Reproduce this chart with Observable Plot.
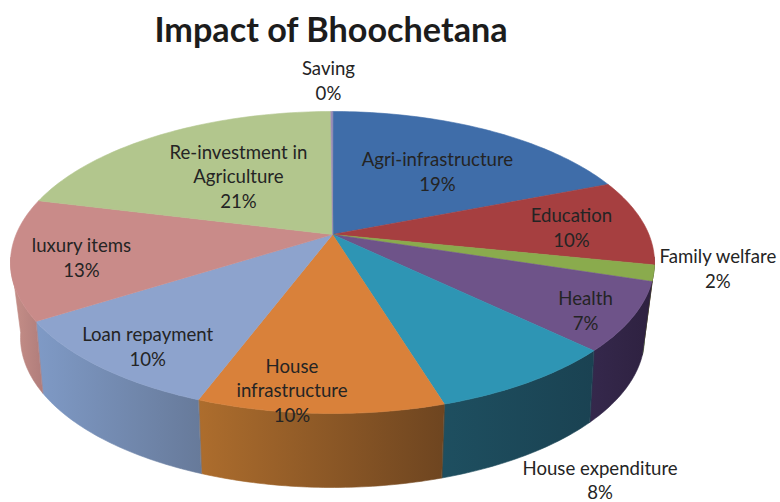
<!DOCTYPE html>
<html>
<head>
<meta charset="utf-8">
<script src="https://cdn.jsdelivr.net/npm/d3@7"></script>
<script src="https://cdn.jsdelivr.net/npm/@observablehq/plot@0.6"></script>
<style>
  html, body { margin: 0; padding: 0; background: #fff; }
  #title { height: 56px; margin: 0; padding: 0; width: 662px; text-align: center;
           font: bold 34.2px/58px Lato, sans-serif; color: #1c1c1c; }
  svg { display: block; }
</style>
</head>
<body>
<h1 id="title">Impact of Bhoochetana</h1>
<div id="chart"></div>
<script>
// ---- data ----
const categories = ["Agri-infrastructure", "Education", "Family welfare", "Health", "House expenditure",
  "House\ninfrastructure", "Loan repayment", "luxury items", "Re-investment in\nAgriculture", "Saving"];
const printedPercent = ["19%", "10%", "2%", "7%", "8%", "10%", "10%", "13%", "21%", "0%"];
const sliceShare = [19.0, 9.2, 1.7, 7.3, 8.1, 10.4, 10.3, 12.9, 21.0, 0.1]; // drawn size of each slice

// ---- styling ----
const topColors = ["#3f6da9", "#a63f40", "#8aab4d", "#6e5389", "#2e95b4", "#d9813a", "#8da3cd", "#c98b89", "#b2c68d", "#9c8bb6"];
const wallColors = [
  ["#2c4d78", "#2c4d78"], ["#6f2a2b", "#6f2a2b"], ["#4f6330", "#4f6330"], ["#35284c", "#2e2140"], ["#1e4f60", "#1a4252"],
  ["#ad6d2d", "#6e4520"], ["#7f9ac6", "#677a9a"], ["#c79089", "#b07d7b"], ["#b2c68d", "#b2c68d"], ["#9c8bb6", "#9c8bb6"]
];
const labelFit = [[0.68, 0, 7], [0.77, 0, 1.5], [1.2, 0, -13], [0.843, 0, 5.4], [1.364, 0, 43],
  [0.866, -30, 0], [0.794, 0, 6], [0.78, 0, 3], [0.551, 0, -4], [1.26, -3, 0]];

// ---- pie geometry (a tilted disc seen in perspective) ----
const width = 780, fullHeight = 502, titleHeight = 56;
const topRim = {cx: 332, cy: 262, rx: 322, ry: 151};
const bottomRim = {cx: 332, cy: 337, rx: 312, ry: 150};
const apex = {x: 332, y: 234};
const foreshorten = 0.83;
const wallFrom = 88, wallTo = 272, wallSkew = 2;

const cumulative = d3.cumsum(sliceShare);
const total = cumulative[cumulative.length - 1];
// share position around the disc -> angle on the projected ellipse (degrees from the top, clockwise)
function shareToAngle(s) {
  const half = (s / total) * Math.PI;
  if (Math.abs(half - Math.PI / 2) < 1e-6) return 180;
  let t = 2 * Math.atan(foreshorten * Math.tan(half));
  if (t < 0) t += 2 * Math.PI;
  return t * 180 / Math.PI;
}
const rim = (e, deg) => {
  const a = deg * Math.PI / 180;
  return {x: e.cx + e.rx * Math.sin(a), y: e.cy - e.ry * Math.cos(a)};
};
// the lower rim is seen from a slightly different angle than the upper one
const lowerAngle = deg => {
  const a = deg * Math.PI / 180;
  return deg + wallSkew * Math.sin(2 * a) * Math.sin(a) ** 2;
};
const sweep = (a, b) => {
  const n = Math.max(2, Math.ceil(Math.abs(b - a)));
  return d3.range(n + 1).map(i => a + (b - a) * i / n);
};

const slices = categories.map((name, i) => ({
  name, i,
  a0: shareToAngle(i ? cumulative[i - 1] : 0),
  a1: i === categories.length - 1 ? 360 : shareToAngle(cumulative[i]),
  s: ((i ? cumulative[i - 1] : 0) + cumulative[i]) / 2
}));

const topPolygon = d => [apex, ...sweep(d.a0, d.a1).map(t => rim(topRim, t))];
const wallPolygon = d => {
  const a = Math.max(d.a0, wallFrom), b = Math.min(d.a1, wallTo);
  if (b <= a) return null;
  const arc = sweep(a, b);
  return [...arc.map(t => rim(topRim, t)), ...arc.slice().reverse().map(t => rim(bottomRim, lowerAngle(t)))];
};

const gradients = () => {
  const defs = d3.create("svg:defs");
  wallColors.forEach((c, i) => {
    const g = defs.append("linearGradient").attr("id", `wall${i}`);
    g.append("stop").attr("offset", "0%").attr("stop-color", c[0]);
    g.append("stop").attr("offset", "100%").attr("stop-color", c[1]);
  });
  return defs.node();
};

const wallMarks = slices.map(d => {
  const pts = wallPolygon(d);
  if (!pts) return null;
  return Plot.line(pts, {x: "x", y: "y", curve: "linear-closed", fill: `url(#wall${d.i})`, stroke: `url(#wall${d.i})`, strokeWidth: 0.6});
}).filter(Boolean);

const topMarks = slices.map(d =>
  Plot.line(topPolygon(d), {x: "x", y: "y", curve: "linear-closed", fill: topColors[d.i], stroke: topColors[d.i], strokeWidth: 0.6})
);

const labels = slices.map(d => {
  const m = rim(topRim, shareToAngle(d.s));
  const [f, dx, dy] = labelFit[d.i];
  return {
    x: apex.x + f * (m.x - apex.x) + dx,
    y: apex.y + f * (m.y - apex.y) + dy,
    text: `${d.name}\n${printedPercent[d.i]}`
  };
});

const chart = Plot.plot({
  width,
  height: fullHeight - titleHeight,
  margin: 0,
  x: {domain: [0, width], range: [0, width], axis: null},
  y: {domain: [titleHeight, fullHeight], range: [0, fullHeight - titleHeight], axis: null},
  marks: [
    gradients,
    ...wallMarks,
    ...topMarks,
    Plot.text(labels, {
      x: "x", y: "y", text: "text", fontSize: 18.6, lineHeight: 1.33, fill: "#242424",
      fontFamily: "Lato, sans-serif", textAnchor: "middle", lineAnchor: "middle"
    })
  ]
});
document.getElementById("chart").append(chart);
</script>
</body>
</html>
